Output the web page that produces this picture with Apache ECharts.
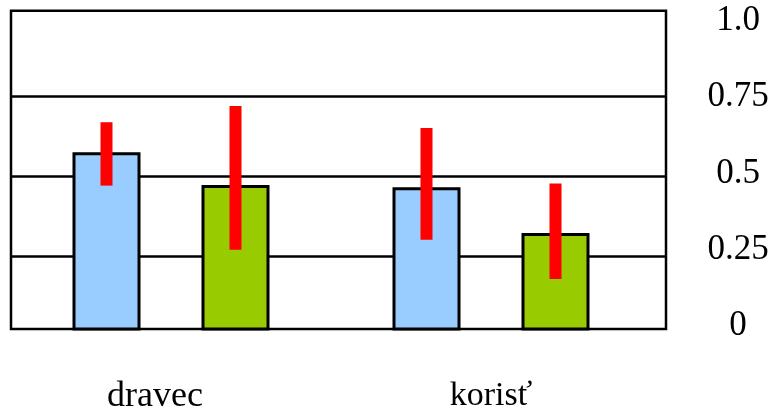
<!DOCTYPE html>
<html>
<head>
<meta charset="utf-8">
<script src="https://cdn.jsdelivr.net/npm/echarts@6/dist/echarts.min.js"></script>
<style>
  html, body { margin: 0; padding: 0; background: #fff; }
  #chart { width: 772px; height: 410px; }
</style>
</head>
<body>
<div id="chart"></div>
<script>
// Categories and measured means with their error ranges
const categories = ['dravec', 'korisť'];
const meansBlue = [0.571, 0.461];
const meansGreen = [0.468, 0.3175];
const rangeBlue = [[0.471, 0.670], [0.301, 0.652]];
const rangeGreen = [[0.270, 0.721], [0.178, 0.478]];
const tickValues = [0, 0.25, 0.5, 0.75, 1];
const gridValues = [0.25, 0.5, 0.75];
const tickText = { 0: '0', 0.25: '0.25', 0.5: '0.5', 0.75: '0.75', 1: '1.0' };

const FONT = '"Liberation Serif", "Times New Roman", serif';
const BAR_W = 65;
const BAR_GAP = 64;
const ERR_W = 12;

// plot frame
const TOP = 10.7, BOTTOM = 81, LEFT = 11, RIGHT = 106;

// value range of the plotting scale
const Y_MIN = 0.021, Y_MAX = 1.020;
// value range used to place the tick labels
const L_MIN = -0.0098, L_MAX = 1.0328;

// bars rise from the floor of the plot to their value
function barItem(side, color) {
  return function (params, api) {
    const p = api.coord([api.value(0), api.value(1)]);
    const floor = params.coordSys.y + params.coordSys.height;
    const cx = p[0] + side * (BAR_W + BAR_GAP) / 2;
    return {
      type: 'rect',
      shape: { x: cx - BAR_W / 2, y: p[1], width: BAR_W, height: floor - p[1] },
      style: { fill: color, stroke: '#000', lineWidth: 3 }
    };
  };
}

// error range drawn as a thick red stroke across the bar top
function errorItem(side) {
  return function (params, api) {
    const cat = api.value(0);
    const lo = api.coord([cat, api.value(1)]);
    const hi = api.coord([cat, api.value(2)]);
    const cx = lo[0] + side * (BAR_W + BAR_GAP) / 2;
    return {
      type: 'rect',
      shape: { x: cx - ERR_W / 2, y: hi[1], width: ERR_W, height: lo[1] - hi[1] },
      style: { fill: '#ff0000' }
    };
  };
}

const chart = echarts.init(document.getElementById('chart'), null, { renderer: 'canvas' });
chart.setOption({
  backgroundColor: '#ffffff',
  animation: false,
  grid: [
    { left: LEFT, right: RIGHT, top: TOP, bottom: BOTTOM, show: true,
      outerBoundsMode: 'none', containLabel: false,
      borderColor: '#000', borderWidth: 2.5, backgroundColor: 'transparent' },
    { left: LEFT, width: 640, top: TOP, bottom: BOTTOM,
      outerBoundsMode: 'none', containLabel: false }
  ],
  xAxis: [
    { type: 'value', gridIndex: 0, min: 0, max: 1, show: false },
    { type: 'category', gridIndex: 1, data: categories,
      axisLine: { show: false }, axisTick: { show: false },
      axisLabel: {
        margin: 50, color: '#000', fontFamily: FONT, fontSize: 35,
        formatter: function (v, i) { return i === 0 ? '{a|' + v + '}' : '{b|' + v + '}'; },
        rich: {
          a: { fontFamily: FONT, fontSize: 36, color: '#000', padding: [0, 32, 0, 0] },
          b: { fontFamily: FONT, fontSize: 34, color: '#000' }
        }
      } }
  ],
  yAxis: [
    { type: 'value', gridIndex: 0, min: Y_MIN, max: Y_MAX,
      axisLine: { show: false }, axisTick: { show: false, customValues: gridValues },
      axisLabel: { show: false, customValues: gridValues },
      splitLine: { show: true, lineStyle: { color: '#000', width: 2.5 } } },
    { type: 'value', gridIndex: 0, position: 'right', min: L_MIN, max: L_MAX,
      axisLine: { show: false }, axisTick: { show: false, customValues: tickValues },
      splitLine: { show: false },
      axisLabel: { customValues: tickValues, margin: 72, align: 'center',
        color: '#000', fontFamily: FONT, fontSize: 35,
        formatter: function (v) { return tickText[v] !== undefined ? tickText[v] : ''; } } },
    { type: 'value', gridIndex: 1, min: Y_MIN, max: Y_MAX, show: false, splitLine: { show: false } }
  ],
  series: [
    { type: 'custom', xAxisIndex: 1, yAxisIndex: 2, z: 2,
      renderItem: barItem(-1, '#99ccff'),
      data: meansBlue.map(function (v, i) { return [i, v]; }) },
    { type: 'custom', xAxisIndex: 1, yAxisIndex: 2, z: 2,
      renderItem: barItem(1, '#99cc00'),
      data: meansGreen.map(function (v, i) { return [i, v]; }) },
    { type: 'custom', xAxisIndex: 1, yAxisIndex: 2, z: 5,
      renderItem: errorItem(-1),
      data: rangeBlue.map(function (r, i) { return [i, r[0], r[1]]; }) },
    { type: 'custom', xAxisIndex: 1, yAxisIndex: 2, z: 5,
      renderItem: errorItem(1),
      data: rangeGreen.map(function (r, i) { return [i, r[0], r[1]]; }) }
  ]
});
</script>
</body>
</html>
